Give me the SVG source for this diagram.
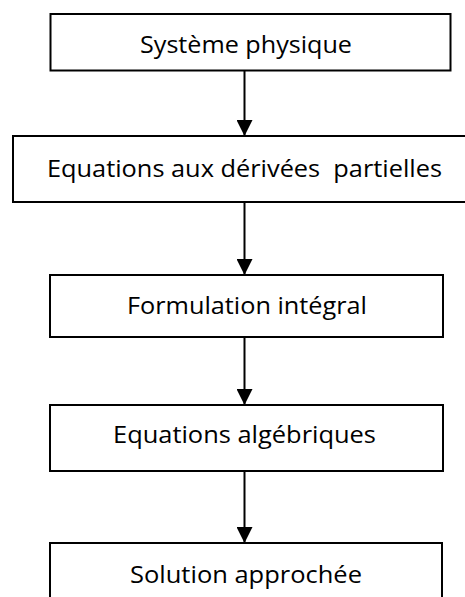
<svg xmlns="http://www.w3.org/2000/svg" width="465" height="597" viewBox="0 0 465 597">
<style>
.box{fill:#fff;stroke:#000;stroke-width:2}
.lbl{font-family:"Open Sans","Liberation Sans",sans-serif;font-size:24.5px;fill:#000;white-space:pre;font-variant-ligatures:none}
.edge{stroke:#000;stroke-width:2;fill:none;marker-end:url(#ah)}
</style>
<defs>
<marker id="ah" markerWidth="16" markerHeight="16" viewBox="0 0 16 16" refX="16" refY="8" orient="auto" markerUnits="userSpaceOnUse">
<path d="M0,0 L16,8 L0,16 Z" fill="#000"/>
</marker>
</defs>
<rect width="465" height="597" fill="#fff"/>
<g id="connectors">
<line class="edge" x1="244.5" y1="71" x2="244.5" y2="136"/>
<line class="edge" x1="244.5" y1="202" x2="244.5" y2="275"/>
<line class="edge" x1="244.5" y1="337" x2="244.5" y2="405"/>
<line class="edge" x1="244.5" y1="471" x2="244.5" y2="543"/>
</g>
<g id="n1">
<rect class="box" x="50.5" y="14" width="400" height="56.5"/>
<text class="lbl" x="140" y="53" textLength="212" lengthAdjust="spacingAndGlyphs">Système physique</text>
</g>
<g id="n2">
<rect class="box" x="13" y="136" width="470" height="66"/>
<text class="lbl" x="47" y="177" textLength="395" lengthAdjust="spacingAndGlyphs">Equations aux dérivées  partielles</text>
</g>
<g id="n3">
<rect class="box" x="50" y="275" width="393" height="62"/>
<text class="lbl" x="127" y="314" textLength="240" lengthAdjust="spacingAndGlyphs">Formulation intégral</text>
</g>
<g id="n4">
<rect class="box" x="50" y="405" width="393" height="66"/>
<text class="lbl" x="113" y="443" textLength="263" lengthAdjust="spacingAndGlyphs">Equations algébriques</text>
</g>
<g id="n5">
<rect class="box" x="50" y="543" width="392" height="80"/>
<text class="lbl" x="130" y="583" textLength="232" lengthAdjust="spacingAndGlyphs">Solution approchée</text>
</g>
</svg>
